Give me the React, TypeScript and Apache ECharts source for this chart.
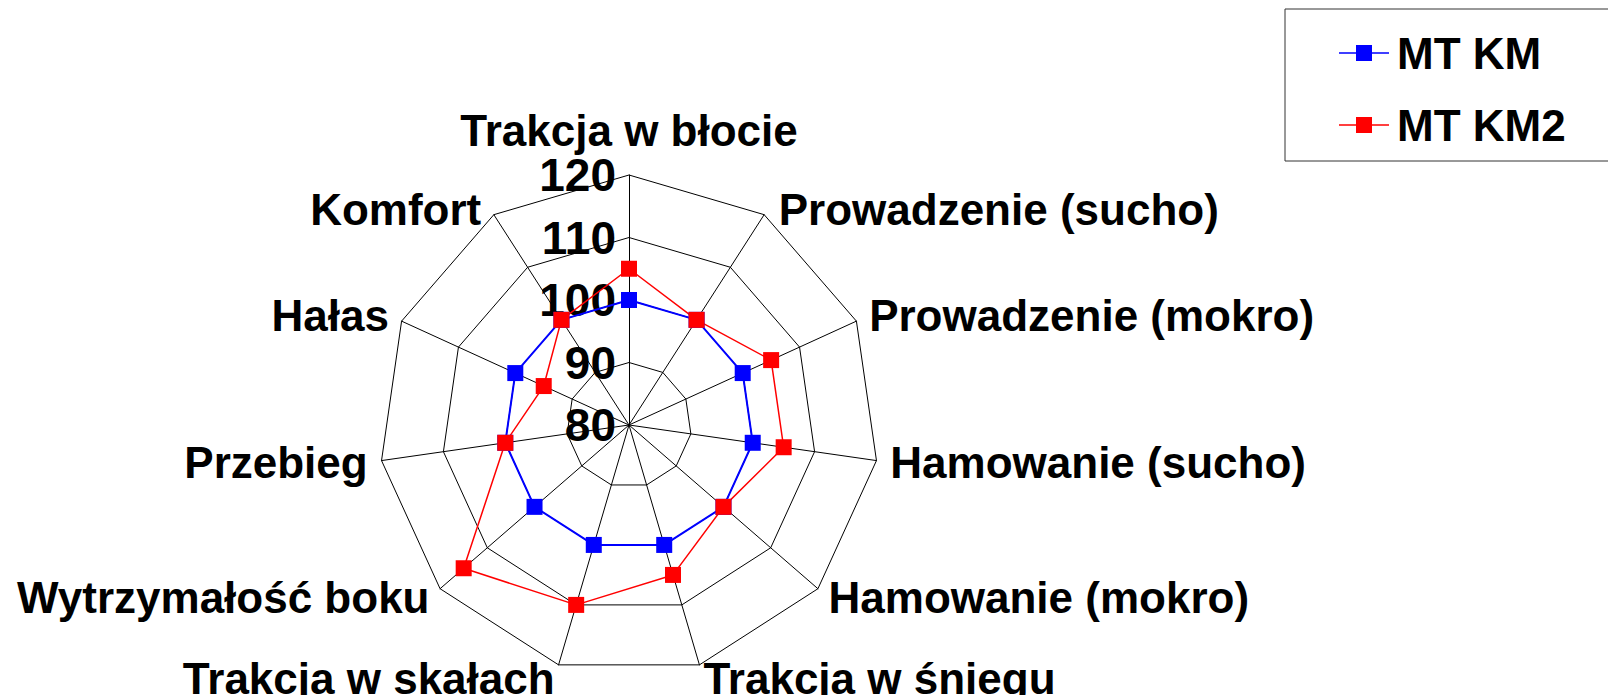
import React, { useEffect, useRef } from "react";
import * as echarts from "echarts";

const indicatorNames = [
  "Trakcja w błocie",
  "Prowadzenie (sucho)",
  "Prowadzenie (mokro)",
  "Hamowanie (sucho)",
  "Hamowanie (mokro)",
  "Trakcja w śniegu",
  "Trakcja w skałach",
  "Wytrzymałość boku",
  "Przebieg",
  "Hałas",
  "Komfort",
];
const seriesNames = ["MT KM", "MT KM2"];
const mtKm = [100, 100, 100, 100, 100, 100, 100, 100, 100, 100, 100];
const mtKm2 = [105, 100, 105, 105, 100, 105, 110, 115, 100, 95, 100];
const axisMin = 80;
const axisMax = 120;
const splitCount = 4;

const FONT = "'Liberation Sans', Arial, sans-serif";

// ECharts radar runs counter-clockwise; reorder so the axes run clockwise from the top.
const order = indicatorNames.map((_, i) => (i === 0 ? 0 : indicatorNames.length - i));
const reorder = <T,>(arr: T[]): T[] => order.map((i) => arr[i]);

export default function App() {
  const ref = useRef<HTMLDivElement>(null);
  useEffect(() => {
    if (!ref.current) return;
    const chart = echarts.init(ref.current, undefined, { renderer: "svg" });
    const labelStyle = {
      fontFamily: FONT,
      fontWeight: "bold",
      fontSize: 44,
      color: "#000",
    };
    const icon = "path://M0,7.3L50,7.3L50,8.7L0,8.7ZM17,0L33,0L33,16L17,16Z";
    chart.setOption({
      animation: false,
      backgroundColor: "#fff",
      legend: {
        orient: "vertical",
        left: 1285,
        top: 9,
        padding: [22, 60, 14, 54],
        itemGap: 28,
        itemWidth: 50,
        itemHeight: 16,
        borderColor: "#333",
        borderWidth: 1,
        textStyle: { ...labelStyle, padding: [0, 0, 0, 3] },
        data: [
          { name: seriesNames[0], icon, itemStyle: { color: "#0000ff" } },
          { name: seriesNames[1], icon, itemStyle: { color: "#ff0000" } },
        ],
      },
      radar: {
        center: [629, 425],
        radius: 250,
        startAngle: 90,
        shape: "polygon",
        splitNumber: splitCount,
        nameGap: 14,
        axisName: {
          ...labelStyle,
          formatter: (name: string) =>
            name === indicatorNames[1]
              ? `{r|${name}}`
              : name === indicatorNames[10]
              ? `{l|${name}}`
              : name,
          rich: {
            r: { ...labelStyle, padding: [14, 0, 0, 7] },
            l: { ...labelStyle, padding: [14, 5, 0, 0] },
          },
        },
        axisLine: { lineStyle: { color: "#000", width: 1 } },
        splitLine: { lineStyle: { color: "#000", width: 1 } },
        splitArea: { show: false },
        axisTick: { show: false },
        axisLabel: { show: false },
        indicator: reorder(indicatorNames).map((name, i) => {
          const ind: any = { name, min: axisMin, max: axisMax };
          if (i === 0) {
            ind.axisLabel = { show: true, ...labelStyle, fontSize: 46, margin: 13 };
          }
          return ind;
        }),
      },
      series: [
        {
          type: "radar",
          symbol: "rect",
          symbolSize: 16,
          data: [
            {
              name: seriesNames[0],
              value: reorder(mtKm),
              lineStyle: { color: "#0000ff", width: 2 },
              itemStyle: { color: "#0000ff" },
            },
            {
              name: seriesNames[1],
              value: reorder(mtKm2),
              lineStyle: { color: "#ff0000", width: 1.5 },
              itemStyle: { color: "#ff0000" },
            },
          ],
        },
      ],
    });
    return () => chart.dispose();
  }, []);
  return (
    <div
      ref={ref}
      style={{ position: "fixed", left: 0, top: 0, width: 1608, height: 695 }}
    />
  );
}
